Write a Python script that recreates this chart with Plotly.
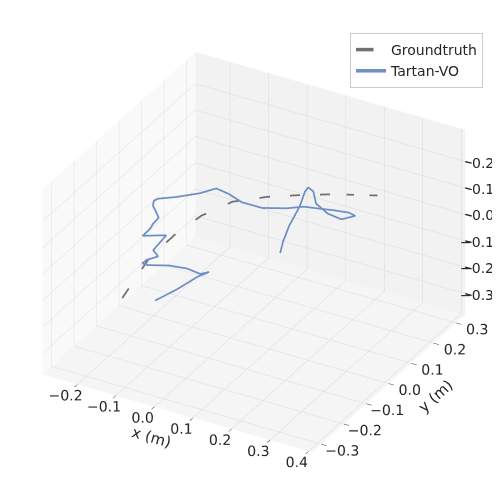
import plotly.graph_objects as go

# ground truth trajectory (m)
gt_x = [-0.280, -0.264, -0.230, -0.184, -0.117, -0.022, 0.076, 0.175, 0.272, 0.372]
gt_y = [-0.003, 0.088, 0.142, 0.184, 0.208, 0.201, 0.184, 0.164, 0.124, 0.084]
gt_z = [-0.345, -0.259, -0.197, -0.136, -0.073, -0.009, 0.052, 0.112, 0.180, 0.250]

# Tartan-VO estimate (m)
vo_x = [-0.198, -0.166, -0.139, -0.119, -0.127, -0.158, -0.189, -0.220, -0.232, -0.227,
        -0.206, -0.224, -0.220, -0.252, -0.247, -0.248, -0.246, -0.260, -0.275, -0.281,
        -0.275, -0.231, -0.181, -0.149, -0.105, -0.052, 0.013, 0.077, 0.115, 0.165,
        0.202, 0.244, 0.267, 0.255, 0.224, 0.188, 0.163, 0.148, 0.154, 0.184,
        0.217, 0.249, 0.275]
vo_y = [0.003, 0.043, 0.090, 0.108, 0.083, 0.075, 0.049, 0.008, 0.004, 0.015,
        0.030, 0.039, 0.090, 0.040, 0.064, 0.080, 0.101, 0.113, 0.125, 0.140,
        0.148, 0.156, 0.173, 0.191, 0.171, 0.138, 0.118, 0.119, 0.127, 0.120,
        0.116, 0.108, 0.096, 0.055, 0.047, 0.057, 0.088, 0.091, 0.066, -0.009,
        -0.112, -0.194, -0.252]
vo_z = [-0.324, -0.300, -0.276, -0.263, -0.255, -0.241, -0.223, -0.203, -0.198, -0.192,
        -0.181, -0.172, -0.153, -0.130, -0.120, -0.113, -0.106, -0.098, -0.091, -0.086,
        -0.082, -0.063, -0.041, -0.023, -0.010, 0.006, 0.027, 0.052, 0.068, 0.086,
        0.099, 0.114, 0.121, 0.134, 0.149, 0.164, 0.176, 0.182, 0.188, 0.202,
        0.222, 0.239, 0.250]

x_ticks = [-0.2, -0.1, 0.0, 0.1, 0.2, 0.3, 0.4]
y_ticks = [-0.3, -0.2, -0.1, 0.0, 0.1, 0.2, 0.3]
z_ticks = [-0.3, -0.2, -0.1, 0.0, 0.1, 0.2]

x_range = [-0.29, 0.41]
y_range = [-0.34, 0.34]
z_range = [-0.38, 0.32]


def fmt(vals):
    return [f"{v:.1f}".replace("-", "\u2212") for v in vals]


fig = go.Figure()
fig.add_trace(go.Scatter3d(
    x=gt_x, y=gt_y, z=gt_z, mode='lines', name='Groundtruth',
    line=dict(color='#707070', width=3.5, dash='longdash')
))
fig.add_trace(go.Scatter3d(
    x=vo_x, y=vo_y, z=vo_z, mode='lines', name='Tartan-VO',
    line=dict(color='#6d8fc6', width=3.5)
))

font = dict(family='DejaVu Sans', size=13, color='#262626')


def axis(title, ticks, rng, bg, labels=True):
    return dict(
        title=dict(text=title, font=dict(family='DejaVu Sans', size=15, color='#262626')),
        range=rng, tickvals=ticks, ticktext=fmt(ticks), tickfont=font, tickangle=0,
        showticklabels=labels,
        showbackground=True, backgroundcolor=bg, gridcolor='#d9d9d9', gridwidth=1,
        showline=False, zeroline=False, showspikes=False,
        ticks='outside' if labels else '', ticklen=6, tickcolor='#222222',
    )


# z labels on the right-hand edge, like matplotlib does
z_notes = []
for zt, txt in zip(z_ticks, fmt(z_ticks)):
    z_notes.append(dict(x=x_range[1], y=y_range[1], z=zt, text='', showarrow=True,
                        arrowhead=0, arrowwidth=1.3, arrowcolor='#222222', ax=8, ay=2))
    z_notes.append(dict(x=x_range[1], y=y_range[1], z=zt, text=txt, showarrow=False,
                        xanchor='right', xshift=31, yshift=-1,
                        font=dict(family='DejaVu Sans', size=14, color='#262626')))

fig.update_layout(
    width=500, height=500,
    margin=dict(l=0, r=0, t=0, b=0),
    paper_bgcolor='white',
    font=font,
    scene=dict(
        xaxis=axis('x (m)', x_ticks, x_range, '#f9f9f9'),
        yaxis=axis('y (m)', y_ticks, y_range, '#f2f2f2'),
        zaxis=axis('', z_ticks, z_range, '#f5f5f5', labels=False),
        aspectmode='manual', aspectratio=dict(x=1.24, y=1.24, z=0.86),
        camera=dict(eye=dict(x=1.0, y=-1.733, z=1.158), center=dict(x=0.012, y=0.012, z=-0.03),
                    projection=dict(type='orthographic')),
        domain=dict(x=[0, 1], y=[0, 1]),
        annotations=z_notes,
    ),
    legend=dict(x=0.95, y=0.95, xanchor='right', yanchor='top',
                bordercolor='#cccccc', borderwidth=1, bgcolor='rgba(255,255,255,0.8)',
                font=dict(family='DejaVu Sans', size=14, color='#262626')),
)

fig.write_html("out.html")
